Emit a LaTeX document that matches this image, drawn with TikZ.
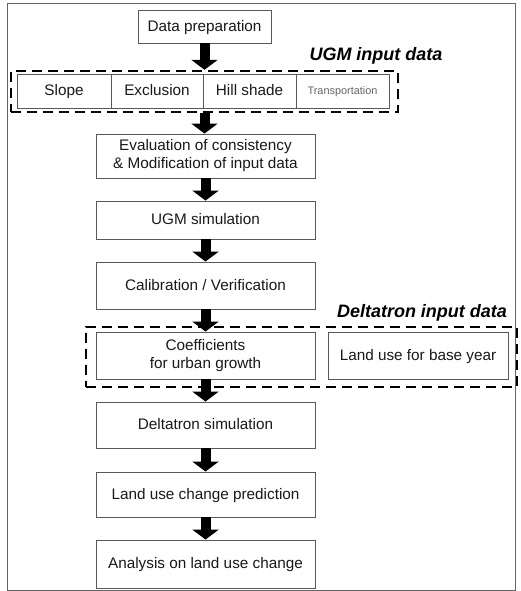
\documentclass[tikz,border=0pt]{standalone}
\usepackage{fontspec}
\setmainfont{Liberation Sans}
\usetikzlibrary{arrows.meta}
\begin{document}
\begin{tikzpicture}[x=1pt,y=-1pt,
  box/.style={draw=black!65,line width=0.9pt,fill=white,align=center,inner sep=0pt,
    font=\fontsize{15.3}{18}\selectfont,text=black!90},
  mainbox/.style={box,minimum width=219pt},
  oneline/.style={text height=11pt,text depth=1.2pt},
  cell/.style={box,oneline,minimum height=34pt},
  dashframe/.style={draw=black,line width=2.4pt,dash pattern=on 10pt off 6pt,inner sep=0pt},
  grouplabel/.style={font=\fontsize{18}{20}\selectfont\bfseries\itshape,inner sep=0pt},
  fatarrow/.style={line width=10pt,-{Triangle[width=26pt,length=10pt]}}]
\useasboundingbox (0,0) rectangle (520,591);
\node[draw=black!60,line width=0.9pt,minimum width=508pt,minimum height=587pt,inner sep=0pt] (frame) at (261,296.5) {};
% top
\node[box,oneline,minimum width=133pt,minimum height=33pt] (prep) at (204.5,26.5) {Data preparation};
% UGM group
\node[dashframe,minimum width=387pt,minimum height=41pt] (ugmgrp) at (204.5,91.5) {};
\node[cell,minimum width=94pt] (slope) at (64,91) {Slope};
\node[cell,minimum width=92pt] (excl) at (157,91) {Exclusion};
\node[cell,minimum width=93pt] (hill) at (249.5,91) {Hill shade};
\node[cell,minimum width=93pt,font=\fontsize{10.9}{12}\selectfont,text=black!60,text height=8pt,text depth=1pt] (trans) at (342.5,91) {Transportation};
\node[grouplabel] (ugmlab) at (376,56) {UGM input data};
% chain
\node[mainbox,minimum height=44pt] (eval) at (205.5,156) {Evaluation of consistency\\\& Modification of input data};
\node[mainbox,oneline,minimum height=38pt] (ugmsim) at (205.5,220) {UGM simulation};
\node[mainbox,oneline,minimum height=47pt] (calib) at (205.5,285.5) {Calibration / Verification};
% Deltatron group
\node[dashframe,minimum width=431pt,minimum height=60pt] (delgrp) at (301.5,357) {};
\node[mainbox,minimum height=47pt] (coeff) at (205.5,355.5) {Coefficients\\for urban growth};
\node[box,oneline,minimum width=180pt,minimum height=47pt] (base) at (418,355.5) {Land use for base year};
\node[grouplabel] (dellab) at (422,313) {Deltatron input data};
\node[mainbox,oneline,minimum height=46pt] (delsim) at (205.5,425) {Deltatron simulation};
\node[mainbox,oneline,minimum height=45pt] (pred) at (205.5,494.5) {Land use change prediction};
\node[mainbox,oneline,minimum height=48pt] (anal) at (205.5,564) {Analysis on land use change};
% arrows
\draw[fatarrow] (prep.south) -- (ugmgrp.north);
\draw[fatarrow] (ugmgrp.south) -- (eval.north -| ugmgrp.south);
\draw[fatarrow] (eval.south) -- (ugmsim.north);
\draw[fatarrow] (ugmsim.south) -- (calib.north);
\draw[fatarrow] (calib.south) -- (coeff.north);
\draw[fatarrow] (coeff.south) -- (delsim.north);
\draw[fatarrow] (delsim.south) -- (pred.north);
\draw[fatarrow] (pred.south) -- (anal.north);
\end{tikzpicture}
\end{document}
